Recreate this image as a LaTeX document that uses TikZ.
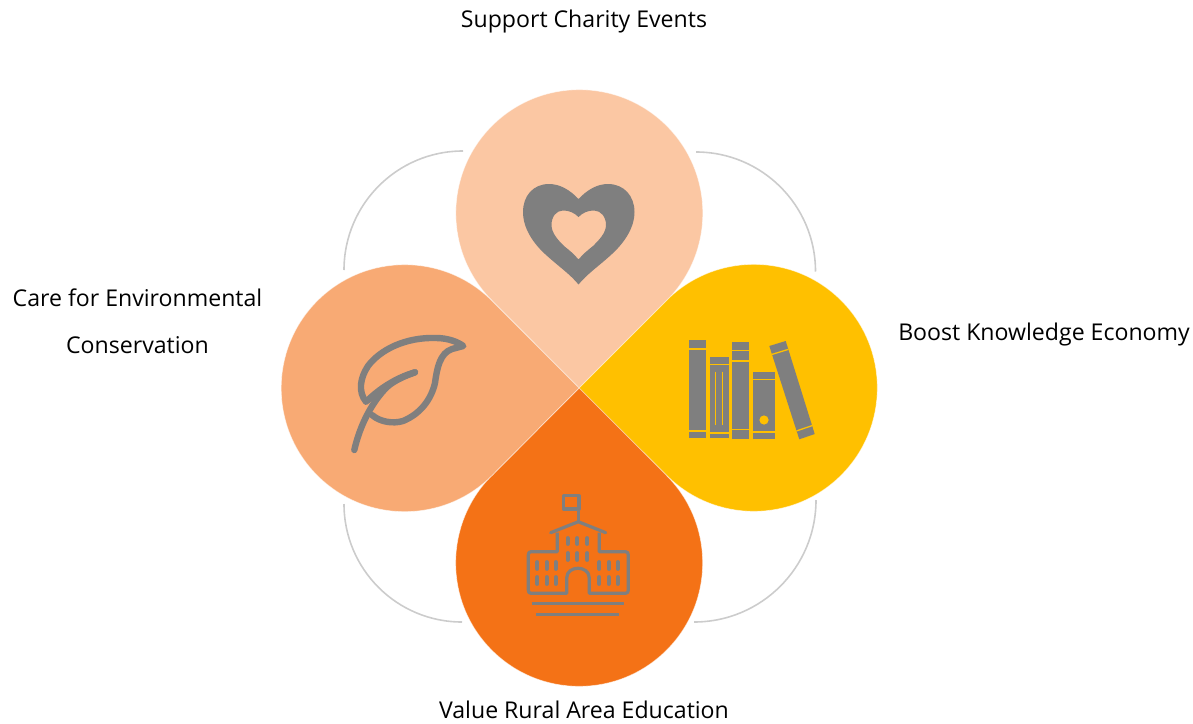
\documentclass[tikz,border=0pt]{standalone}
\usepackage{fontspec}
\setmainfont{Open Sans}
\usetikzlibrary{calc}
\definecolor{dropA}{HTML}{FBC7A3}
\definecolor{dropB}{HTML}{FFC000}
\definecolor{dropC}{HTML}{F47216}
\definecolor{dropD}{HTML}{F8AA74}
\definecolor{icon}{HTML}{7F7F7F}
\definecolor{ring}{HTML}{CCCCCC}
\tikzset{
  drop/.style={fill=#1,draw=white,draw opacity=.55,line width=.7pt},
  ringarc/.style={draw=ring,line width=1.6pt},
  label/.style={font=\fontsize{23.1}{27}\selectfont,inner sep=0pt,text=black},
  iconfill/.style={fill=icon,draw=none},
  leafline/.style={draw=icon,line width=6.4pt,line cap=round,line join=round},
  schoolline/.style={draw=icon,line width=3.2pt,line join=round},
  window/.style={draw=icon,line width=3.8pt,line cap=round},
  booksep/.style={draw=dropB,line width=1.3pt},
}
\begin{document}
\begin{tikzpicture}[x=1pt,y=-1pt]
\useasboundingbox (0,0) rectangle (1193,723);
% rings
\draw[ringarc] (344,270) arc[start angle=180,end angle=90,radius=119pt];
\draw[ringarc] (696,152) arc[start angle=90,end angle=0,radius=119.5pt];
\draw[ringarc] (344,504) arc[start angle=180,end angle=270,radius=118pt];
\draw[ringarc] (694,622) arc[start angle=270,end angle=360,radius=122pt];
% drops
\coordinate (hub) at (579,388);
\path[drop=dropA] (hub) -- (492,300.5) arc[start angle=225,end angle=-45,radius=123.5pt] -- cycle;
\path[drop=dropB] (hub) -- (666.5,300.5) arc[start angle=135,end angle=-135,radius=123.5pt] -- cycle;
\path[drop=dropC] (hub) -- (666.5,475.5) arc[start angle=45,end angle=-225,radius=123.5pt] -- cycle;
\path[drop=dropD] (hub) -- (492,475.5) arc[start angle=-45,end angle=-315,radius=123.5pt] -- cycle;
% heart
\path[iconfill,even odd rule]
  (578.5,199) .. controls (570,190) and (560,184) .. (549,184)
  .. controls (533,184) and (523,196) .. (523,212)
  .. controls (523,228) and (533,243) .. (545,254)
  .. controls (558,266) and (570,274) .. (578.5,284.5)
  .. controls (587,274) and (599,266) .. (612,254)
  .. controls (624,243) and (634.5,228) .. (634.5,212)
  .. controls (634.5,196) and (624,184) .. (608,184)
  .. controls (597,184) and (587,190) .. (578.5,199) -- cycle
  (578.5,217) .. controls (574,212.5) and (569,210.5) .. (563,210.5)
  .. controls (556,210.5) and (551.5,217) .. (551.5,225)
  .. controls (551.5,233) and (558,240) .. (564,246)
  .. controls (569,250) and (574,254) .. (578.5,259.5)
  .. controls (583,254) and (588,250) .. (593,246)
  .. controls (599,240) and (606,233) .. (606,225)
  .. controls (606,217) and (601,210.5) .. (594,210.5)
  .. controls (588,210.5) and (583,212.5) .. (578.5,217) -- cycle;
% books
\fill[iconfill] (689,340) rectangle (705.7,438.3);
\draw[booksep] (688,349) -- (707,349) (688,431) -- (707,431);
\fill[iconfill] (709.7,356.7) rectangle (729.3,438.3);
\draw[booksep] (709,364.3) -- (730,364.3) (709,433) -- (730,433);
\draw[booksep,line width=1pt] (715.7,371.7) -- (715.7,425) (722.3,371.7) -- (722.3,425);
\fill[iconfill] (732.3,341.7) rectangle (749.3,439.3);
\draw[booksep] (731.5,350.5) -- (750,350.5) (731.5,361) -- (750,361) (731.5,429.5) -- (750,429.5);
\fill[iconfill] (752.7,371.7) rectangle (775.3,439.3);
\draw[booksep] (752,379.5) -- (776,379.5) (752,432) -- (776,432);
\fill[dropB] (764,420) circle[radius=4.6pt];
\coordinate (ba) at (769.3,346);
\coordinate (bb) at (785.7,341);
\coordinate (bc) at (814.7,434);
\coordinate (bd) at (799.3,439.3);
\fill[iconfill] (ba) -- (bb) -- (bc) -- (bd) -- cycle;
\draw[booksep] ($(ba)!.09!(bd)$) -- ($(bb)!.09!(bc)$) ($(ba)!.91!(bd)$) -- ($(bb)!.91!(bc)$);
% leaf
\draw[leafline] (354.3,450) .. controls (360,425) and (372,402) .. (387,387) .. controls (395,380) and (405,376) .. (415,372.3);
\draw[leafline] (367,401) .. controls (378,390) and (395,378) .. (415,372.3);
\draw[leafline] (366,401.7) .. controls (358,392) and (360,378) .. (368,366)
  .. controls (380,350) and (405,337) .. (436,338)
  .. controls (448,338) and (458,342) .. (463.3,346)
  -- (452,349)
  .. controls (440,353) and (437,368) .. (435,383)
  .. controls (431,400) and (420,414) .. (403,421)
  .. controls (393,424) and (380,422) .. (372,415);
% school
\draw[schoolline] (563.3,495.7) rectangle (579,509);
\draw[schoolline] (578.3,509) -- (578.3,521.7);
\draw[schoolline,line cap=round] (550.7,532.7) -- (578.3,521.7) -- (605.7,532.7);
\draw[schoolline] (557.3,532.7) -- (557.3,551.7) -- (531,551.7)
  .. controls (529,551.7) and (528.3,553) .. (528.3,555) -- (528.3,590)
  .. controls (528.3,592) and (529,593.3) .. (531,593.3) -- (566.7,593.3) -- (566.7,578)
  .. controls (566.7,565) and (589.3,565) .. (589.3,578) -- (589.3,593.3) -- (625.5,593.3)
  .. controls (627.5,593.3) and (628.3,592) .. (628.3,590) -- (628.3,555)
  .. controls (628.3,553) and (627.5,551.7) .. (625.5,551.7) -- (599.3,551.7) -- (599.3,532.7);
\foreach \wx in {567.7,577.3,587.3}{
  \draw[window] (\wx,538) -- (\wx,544);
  \draw[window] (\wx,553) -- (\wx,560);
}
\foreach \wx in {537.3,546.7,555.7,599.3,608.7,617.7}{
  \draw[window] (\wx,562) -- (\wx,569);
  \draw[window] (\wx,577) -- (\wx,584);
}
\draw[schoolline] (531.7,603.7) -- (624,603.7);
\draw[schoolline] (536,614.3) -- (619.3,614.3);
% labels
\node[label] (top) at (584,21) {Support Charity Events};
\node[label] (leftA) at (137.5,298) {Care for Environmental};
\node[label] (leftB) at (137.5,345) {Conservation};
\node[label] (right) at (1044,334) {Boost Knowledge Economy};
\node[label] (bottom) at (584,710) {Value Rural Area Education};
\end{tikzpicture}
\end{document}
